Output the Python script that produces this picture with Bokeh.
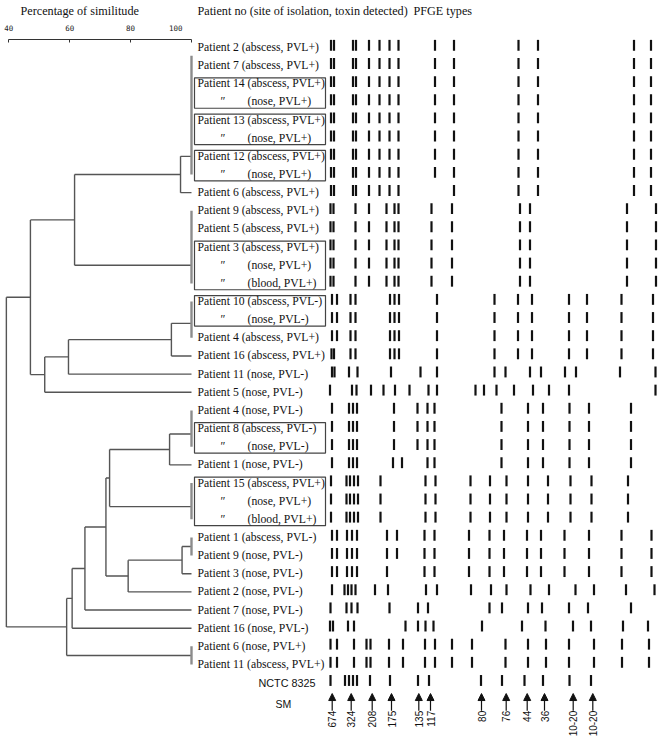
import math
from bokeh.plotting import figure
from bokeh.models import Range1d, LinearAxis, FixedTicker, ColumnDataSource, Arrow, NormalHead
from bokeh.layouts import column
from bokeh.embed import file_html
from bokeh.resources import INLINE
from bokeh.core.properties import value

# ------------------------------------------------------------------ data
header_texts = ["Percentage of similitude",
                "Patient no (site of isolation, toxin detected)",
                "PFGE types"]

sim_ticks = [40, 60, 80, 100]

row_labels = [
    "Patient 2  (abscess, PVL+)", "Patient  7 (abscess, PVL+)",
    "Patient 14 (abscess, PVL+)", "″ (nose, PVL+)",
    "Patient 13 (abscess, PVL+)", "″ (nose, PVL+)",
    "Patient 12 (abscess, PVL+)", "″ (nose, PVL+)",
    "Patient 6 (abscess, PVL+)", "Patient 9 (abscess, PVL+)",
    "Patient 5 (abscess, PVL+)", "Patient 3 (abscess, PVL+)",
    "″ (nose, PVL+)", "″ (blood, PVL+)",
    "Patient 10 (abscess, PVL-)", "″ (nose, PVL-)",
    "Patient 4 (abscess, PVL+)", "Patient 16 (abscess, PVL+)",
    "Patient 11 (nose, PVL-)", "Patient 5 (nose, PVL-)",
    "Patient 4 (nose, PVL-)", "Patient 8 (abscess, PVL-)",
    "″ (nose, PVL-)", "Patient 1 (nose, PVL-)",
    "Patient 15 (abscess, PVL+)", "″ (nose, PVL+)", "″ (blood, PVL+)",
    "Patient 1 (abscess, PVL-)", "Patient 9 (nose, PVL-)",
    "Patient 3 (nose, PVL-)", "Patient 2 (nose, PVL-)",
    "Patient 7 (nose, PVL-)", "Patient 16 (nose, PVL-)",
    "Patient 6 (nose, PVL+)", "Patient 11 (abscess, PVL+)",
]

box_first_rows = [2, 4, 6, 11, 14, 21, 24]
box_last_rows = [3, 5, 7, 13, 15, 22, 26]

# PFGE band positions (gel mobility units from the well)
band_A = [5.5, 8.5, 27.5, 30.5, 43.5, 54, 64, 73, 109.5, 128.5, 193, 212.5, 308.5, 325.5]
band_A2 = [5.5, 8.5, 27.5, 30.5, 43.5, 54, 64, 73, 128.5, 193, 212.5, 308.5, 325.5]
band_B = [5, 8, 30, 43.5, 61, 69, 73, 106, 126.5, 194.5, 204.5, 301.5, 330.5]
band_C = [6.5, 11.5, 25, 30, 64.5, 69, 73.5, 111.5, 169, 192.5, 206.5, 243.5, 261.5, 296, 327.5]
band_C2 = [6, 8.5, 25, 30, 64.5, 69, 73.5, 111.5, 169, 192.5, 206.5, 243.5, 261.5, 296, 327.5]
band_R18 = [6.5, 9, 23.5, 32, 65.5, 95, 111.5, 169, 180, 204.5, 215.5, 239.5, 250.5, 294.5, 330]
band_R19 = [4.5, 26.5, 31, 45.5, 58, 69.5, 84, 103, 111.5, 150, 158.5, 171, 188.5, 207.5, 223.5, 243.5, 330]
band_D = [6.5, 23.5, 27.5, 31.5, 68.5, 92, 102, 109, 176, 202.5, 217.5, 244, 263.5, 305.5]
band_D2 = [6.5, 23.5, 27.5, 31.5, 67.5, 76.5, 102, 109, 176, 202.5, 217.5, 244, 263.5, 305.5]
band_E = [5.5, 21, 24.5, 28.5, 32.5, 55, 100, 110, 145, 164.5, 181, 202.5, 222.5, 245, 266, 302.5]
band_F = [6.5, 11.5, 21.5, 26.5, 31.5, 61.5, 71.5, 99, 109, 143.5, 164, 178.5, 201.5, 215.5, 239, 263.5, 296, 326]
band_F2 = [6.5, 11.5, 21.5, 26.5, 31.5, 61.5, 99, 109, 143.5, 164, 178.5, 201.5, 215.5, 239, 263.5, 296, 326]
band_R30 = [6.5, 19, 22.5, 26, 30, 49.5, 62.5, 100.5, 111.5, 145.5, 165.5, 181, 205, 223.5, 250, 268.5, 300.5, 329]
band_R31 = [5, 21, 26, 32, 64, 92.5, 102.5, 164, 176.5, 202.5, 216.5, 243.5, 262.5, 305.5]
band_R32 = [4.5, 7.5, 22.5, 28.5, 80, 92.5, 100, 108, 156.5, 196.5, 220, 247.5, 265.5, 297.5, 322.5]
band_G = [5, 11.5, 28.5, 41, 45, 63.5, 77.5, 99.5, 109.5, 126.5, 146.5, 180, 202.5, 220.5, 243.5, 268.5, 296.5, 323.5]
band_nctc = [5, 19.5, 23.5, 27.5, 31.5, 44.5, 64.5, 92.5, 103.5, 155.5, 176.5, 199, 217.5, 244, 265.5]

row_bands = ([band_A] * 8 + [band_A2] + [band_B] * 5 + [band_C] * 3 +
             [band_C2, band_R18, band_R19] + [band_D] * 3 + [band_D2] +
             [band_E] * 3 + [band_F, band_F, band_F2, band_R30, band_R31, band_R32,
                             band_G, band_G])

ref_strain = "NCTC 8325"
size_marker = "SM"
marker_sizes = ["674", "324", "208", "175", "135", "117", "80", "76", "44", "36", "10-20", "10-20"]
marker_pos = [6.7, 25.7, 46.7, 66, 93.3, 105, 156, 180.7, 201.7, 219, 247.7, 267.3]

# dendrogram: identical-profile leaf groups (first row, last row, joining row)
group_names = ["A", "B", "C", "D", "E", "F", "G"]
group_first = [0.45, 9, 14, 20, 24, 27, 33]
group_last = [7, 13, 16, 22, 26, 28, 34]
group_join = [6.0, 12.0, 15.2, 21.3, 25.3, 27.5, 33.5]
single_names = ["P6a", "P16a", "P11n", "P5n", "P1n", "P3n", "P2n", "P7n", "P16n"]
single_rows = [8, 17, 18, 19, 23, 29, 30, 31, 32]
node_names = ["n1", "n2", "n3", "n4", "n5", "n6", "n7", "n8", "n9", "n10", "n11", "n12", "n13", "n14", "root"]
node_sim = [96.4, 61.6, 93.4, 59.6, 51.8, 47.1, 92.8, 73.1, 96.9, 79.2, 71.9, 65.0, 60.8, 59.0, 39.2]
node_left = ["A", "n1", "C", "n3", "n4", "n2", "D", "n7", "F", "n9", "n8", "n11", "n12", "n13", "n6"]
node_right = ["P6a", "B", "P16a", "P11n", "P5n", "n5", "P1n", "E", "P3n", "P2n", "n10", "P7n", "P16n", "G", "n14"]

# ------------------------------------------------------------------ layout constants
W, H = 664, 736
HEADER_H = 20
MAIN_H = H - HEADER_H
GEL_ORIGIN = 325          # canvas-x of the gel well (layout)
ROW_TOP, ROW_BOTTOM = -0.4396, 37.967
SIM_LEFT, SIM_RIGHT = 37.274, 255.34
LABEL_X, DITTO_X, SITE_X = -128, -105, -78
BOX_L, BOX_R = -131, 0
SERIF = value("Liberation Serif")
SANS = value("Liberation Sans")

# ------------------------------------------------------------------ header
header = figure(width=W, height=HEADER_H, x_range=Range1d(0, W), y_range=Range1d(HEADER_H, 0),
                output_backend="svg", toolbar_location=None, min_border=0,
                x_axis_location=None, y_axis_location=None)
header.outline_line_color = None
header.grid.visible = False
header.text(x=[20, 197, 413], y=[10.5, 10.5, 10.5], text=header_texts, text_font=SERIF,
            text_font_size="12.2px", text_color="#111111", text_baseline="middle")

# ------------------------------------------------------------------ main
p = figure(width=W, height=MAIN_H, x_range=Range1d(-GEL_ORIGIN, W - GEL_ORIGIN),
           y_range=Range1d(ROW_BOTTOM, ROW_TOP), output_backend="svg", toolbar_location=None,
           min_border=0, min_border_top=17, x_axis_location=None, y_axis_location=None)
p.outline_line_color = None
p.grid.visible = False
p.extra_x_ranges = {"sim": Range1d(SIM_LEFT, SIM_RIGHT)}

ax = LinearAxis(x_range_name="sim", ticker=FixedTicker(ticks=sim_ticks), bounds=(40, 100))
ax.major_tick_in = 3
ax.major_tick_out = 0
ax.minor_tick_in = 0
ax.minor_tick_out = 0
ax.major_label_standoff = 7
ax.major_label_text_font = "DejaVu Sans Mono"
ax.major_label_text_font_size = "7.5px"
ax.major_label_text_color = "#222222"
ax.axis_line_color = "#333333"
ax.major_tick_line_color = "#333333"
ax.major_label_overrides = {100: "100" + "\u00a0" * 7}
p.add_layout(ax, "above")

# dendrogram
pos = {}
for n, j in zip(group_names, group_join):
    pos[n] = (100.0, j)
for n, r in zip(single_names, single_rows):
    pos[n] = (100.0, r)
sx0, sy0, sx1, sy1 = [], [], [], []
for n, s, l, r in zip(node_names, node_sim, node_left, node_right):
    ls, ly = pos[l]
    rs, ry = pos[r]
    sx0 += [s, s, s]; sy0 += [ly, ly, ry]
    sx1 += [s, ls, rs]; sy1 += [ry, ly, ry]
    pos[n] = (s, (ly + ry) / 2)
p.segment(x0=sx0, y0=sy0, x1=sx1, y1=sy1, x_range_name="sim",
          line_color="#555555", line_width=1.4)
p.segment(x0=[100] * len(group_first), y0=group_first, x1=[100] * len(group_first), y1=group_last,
          x_range_name="sim", line_color="#8c8c8c", line_width=2.4)

# boxes around isolates from the same patient
p.quad(left=[BOX_L] * len(box_first_rows), right=[BOX_R] * len(box_first_rows),
       top=[r - 0.33 for r in box_first_rows], bottom=[r + 0.35 for r in box_last_rows],
       fill_color=None, line_color="#444444", line_width=1.2)

# labels
main_x, main_y, main_t = [], [], []
dit_y, site_y, site_t = [], [], []
for i, lab in enumerate(row_labels):
    if lab.startswith("″"):
        dit_y.append(i)
        site_y.append(i)
        site_t.append(lab[1:].strip())
    else:
        main_x.append(LABEL_X)
        main_y.append(i)
        main_t.append(lab)
lab_kw = dict(text_font=SERIF, text_font_size="11.7px", text_color="#111111", text_baseline="middle")
p.text(x=main_x, y=main_y, text=main_t, **lab_kw)
p.text(x=[DITTO_X] * len(dit_y), y=dit_y, text=["″"] * len(dit_y), **lab_kw)
p.text(x=[SITE_X] * len(site_y), y=site_y, text=site_t, **lab_kw)

# bands
bx, brow = [], []
for i, bands in enumerate(row_bands):
    bx += bands
    brow += [i] * len(bands)
nctc_row = len(row_bands)
bx += band_nctc
brow += [nctc_row] * len(band_nctc)
p.vbar(x=bx, width=2.2, top=[r - 0.42 for r in brow], bottom=[r + 0.18 for r in brow],
       fill_color="#111111", line_color=None)

# reference strain and size marker
sm_row = nctc_row + 1.15
p.text(x=[-67], y=[nctc_row], text=[ref_strain], text_font=SANS, text_font_size="10.8px",
       text_color="#111111", text_baseline="middle")
p.text(x=[-50], y=[sm_row], text=[size_marker], text_font=SANS, text_font_size="10.5px",
       text_color="#111111", text_baseline="middle")
arrow_src = ColumnDataSource(dict(x0=marker_pos, y0=[nctc_row + 1.55] * len(marker_pos),
                                  x1=marker_pos, y1=[nctc_row + 0.6] * len(marker_pos)))
p.add_layout(Arrow(end=NormalHead(size=7, fill_color="#111111", line_color="#111111"),
                   source=arrow_src, x_start="x0", y_start="y0", x_end="x1", y_end="y1",
                   line_color="#111111", line_width=1.2))
p.text(x=marker_pos, y=[nctc_row + 1.55] * len(marker_pos), text=marker_sizes, angle=math.pi / 2,
       text_align="right", text_baseline="middle", text_font=SANS, text_font_size="10px",
       text_color="#111111")

layout = column(header, p, spacing=0)
open("out.html", "w").write(file_html(layout, INLINE))
